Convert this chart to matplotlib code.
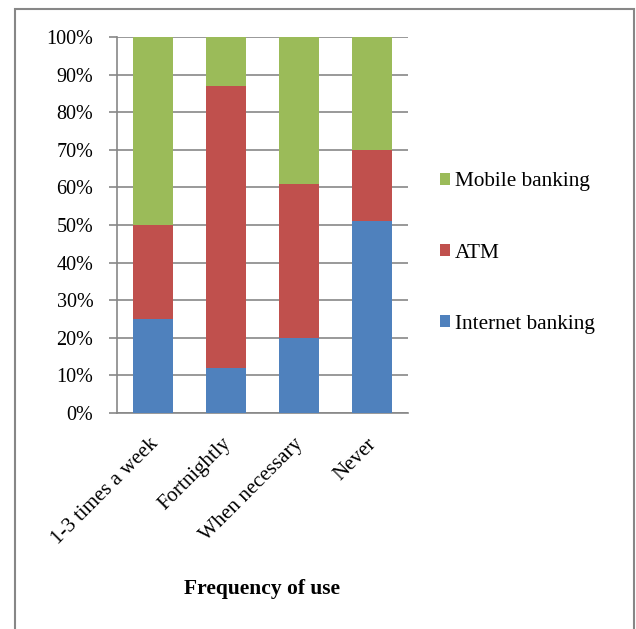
import numpy as np
import matplotlib.pyplot as plt
from matplotlib.patches import Rectangle
from matplotlib.ticker import PercentFormatter
from matplotlib.transforms import ScaledTranslation

plt.rcParams['font.family'] = ['Liberation Serif', 'DejaVu Serif']

categories = ["1-3 times a week", "Fortnightly", "When necessary", "Never"]
internet_banking = [25, 12, 20, 51]
atm = [25, 75, 41, 19]
mobile_banking = [50, 13, 39, 30]

colors = {"Internet banking": "#4f81bd", "ATM": "#c0504d", "Mobile banking": "#9bbb59"}

fig = plt.figure(figsize=(6.36, 6.29), dpi=100)
ax = fig.add_axes([117 / 636, 1 - 413 / 629, 291 / 636, 376 / 629])

x = np.arange(len(categories))
width = 0.55
bottom = np.zeros(len(categories))
handles = []
for name, vals in [("Internet banking", internet_banking), ("ATM", atm),
                   ("Mobile banking", mobile_banking)]:
    b = ax.bar(x, vals, width, bottom=bottom, color=colors[name], label=name, zorder=3)
    handles.append(b)
    bottom += np.array(vals)

ax.set_xlim(-0.5, len(categories) - 0.5)
ax.set_ylim(0, 100)
ax.set_yticks(np.arange(0, 101, 10))
ax.yaxis.set_major_formatter(PercentFormatter(decimals=0))
ax.grid(axis='y', color='#878787', linewidth=1.2, zorder=0)
ax.set_axisbelow(True)

for side in ['top', 'right']:
    ax.spines[side].set_visible(False)
for side in ['left', 'bottom']:
    ax.spines[side].set_color('#878787')
    ax.spines[side].set_linewidth(1.2)
ax.tick_params(axis='y', length=6, color='#878787', width=1.2, labelsize=14.5, pad=11)
ax.tick_params(axis='x', length=0, pad=14)

ax.set_xticks(x)
ax.set_xticklabels(categories, rotation=45, ha='right', rotation_mode='anchor', fontsize=15)
shift = ScaledTranslation(-5 / 100, -2 / 100, fig.dpi_scale_trans)
for lbl in ax.get_xticklabels():
    lbl.set_transform(lbl.get_transform() + shift)

fig.text(262 / 636, 1 - 589 / 629, "Frequency of use", fontsize=15.5,
         fontweight='bold', ha='center', va='center')

leg = fig.legend(handles[::-1], [h.get_label() for h in handles[::-1]],
                 loc='center left', bbox_to_anchor=(421 / 636, 1 - 253 / 629),
                 frameon=False, fontsize=15.3, handlelength=0.45, handleheight=0.45,
                 handletextpad=0.25, labelspacing=2.45)

fig.patches.append(Rectangle((15 / 636, -5 / 629), 619 / 636, 625 / 629,
                             transform=fig.transFigure, fill=False,
                             edgecolor='#878787', linewidth=1.5))

fig.savefig("out.png", dpi=100)
